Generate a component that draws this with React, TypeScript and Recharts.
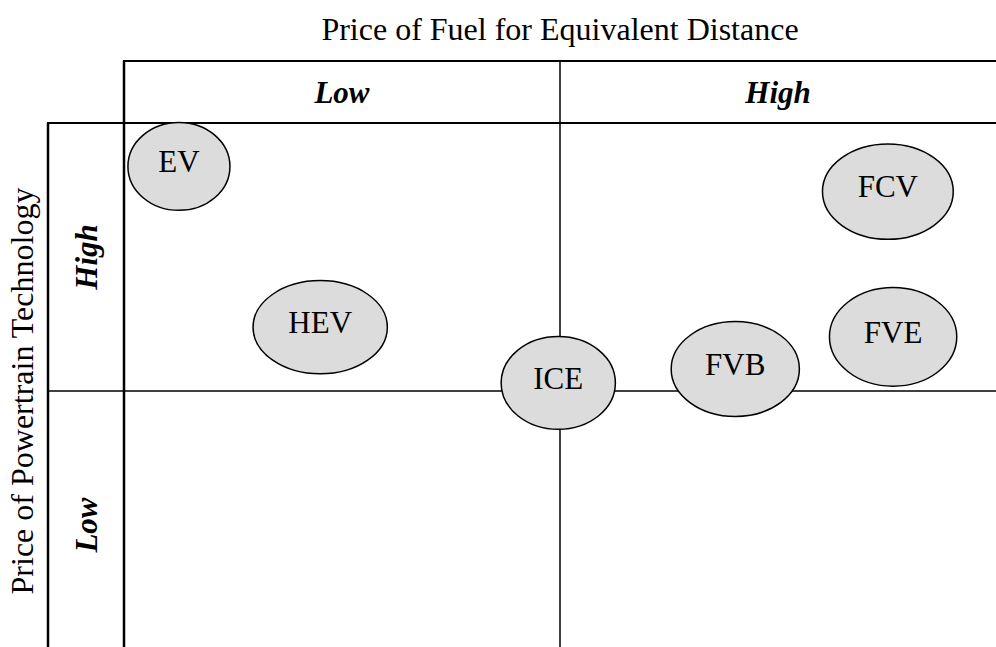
import React from 'react';
import { ScatterChart, Scatter, XAxis, YAxis, ReferenceLine, Customized } from 'recharts';

// ---- data ----
const vehicles = ['EV', 'HEV', 'ICE', 'FVB', 'FVE', 'FCV'];
const fuelPrice = [6.3, 22.5, 49.8, 70.1, 88.2, 87.6];
const powertrainPrice = [91.9, 61.9, 51.5, 54.1, 60.1, 87.2];
const fuelSpread = [11.7, 15.4, 13.1, 14.7, 14.6, 15.0];
const powertrainSpread = [16.4, 17.4, 17.3, 17.7, 18.4, 17.8];
const levelTicks = [25, 75];
const levelLabels = ['Low', 'High'];
const splitValue = 50;
const xTitle = 'Price of Fuel for Equivalent Distance';
const yTitle = 'Price of Powertrain Technology';

// ---- layout ----
const W = 996;
const H = 659;
const MARGIN = { top: 61, right: 0, bottom: 0, left: 48 };
const X_AXIS_H = 62;
const Y_AXIS_W = 76;
const PLOT_L = MARGIN.left + Y_AXIS_W;
const PLOT_T = MARGIN.top + X_AXIS_H;
const PLOT_W = W - PLOT_L - MARGIN.right;
const PLOT_H = H - PLOT_T - MARGIN.bottom;
const FONT = "'Liberation Serif', 'Times New Roman', Times, serif";
const FS = 31;
const FS_TITLE = 32;

const data = vehicles.map((name, i) => ({
  name,
  x: fuelPrice[i],
  y: powertrainPrice[i],
  w: fuelSpread[i],
  h: powertrainSpread[i],
}));

const labelFor = (v: number) => levelLabels[levelTicks.indexOf(v)];

const HeaderTick = (props: any) => {
  const { x, y, payload } = props;
  return (
    <text x={x} y={y - X_AXIS_H / 2} dy="0.35em" textAnchor="middle" fontFamily={FONT}
      fontSize={FS} fontWeight="bold" fontStyle="italic" fill="#000">
      {labelFor(payload.value)}
    </text>
  );
};

const SideTick = (props: any) => {
  const { x, y, payload } = props;
  const cx = x - Y_AXIS_W / 2;
  return (
    <text x={cx} y={y} dy="0.35em" textAnchor="middle" transform={`rotate(-90, ${cx}, ${y})`}
      fontFamily={FONT} fontSize={FS} fontWeight="bold" fontStyle="italic" fill="#000">
      {labelFor(payload.value)}
    </text>
  );
};

const XTitle = (props: any) => {
  const vb = props.viewBox || {};
  return (
    <text x={vb.x + vb.width / 2} y={vb.y - 21} textAnchor="middle" fontFamily={FONT} fontSize={FS_TITLE} fill="#000">
      {xTitle}
    </text>
  );
};

const YTitle = (props: any) => {
  const vb = props.viewBox || {};
  const cx = vb.x - 15;
  const cy = vb.y + vb.height / 2;
  return (
    <text x={cx} y={cy} textAnchor="middle" transform={`rotate(-90, ${cx}, ${cy})`} fontFamily={FONT} fontSize={FS_TITLE} fill="#000">
      {yTitle}
    </text>
  );
};

const Frame = () => (
  <g stroke="#000" fill="none">
    <line x1={PLOT_L - 1} y1={MARGIN.top} x2={W} y2={MARGIN.top} strokeWidth={2} />
    <line x1={PLOT_L} y1={MARGIN.top} x2={PLOT_L} y2={H} strokeWidth={2.5} />
    <line x1={PLOT_L + PLOT_W / 2} y1={MARGIN.top} x2={PLOT_L + PLOT_W / 2} y2={PLOT_T} strokeWidth={1.5} />
    <line x1={MARGIN.left - 1} y1={PLOT_T} x2={W} y2={PLOT_T} strokeWidth={2} />
    <line x1={MARGIN.left} y1={PLOT_T} x2={MARGIN.left} y2={H} strokeWidth={2.5} />
    <line x1={MARGIN.left} y1={PLOT_T + PLOT_H / 2} x2={PLOT_L} y2={PLOT_T + PLOT_H / 2} strokeWidth={1.5} />
  </g>
);

const EllipseShape = (props: any) => {
  const { cx, cy, payload } = props;
  const rx = (payload.w * PLOT_W) / 100 / 2;
  const ry = (payload.h * PLOT_H) / 100 / 2;
  return (
    <g>
      <ellipse cx={cx} cy={cy} rx={rx} ry={ry} fill="#dcdcdc" stroke="#000" strokeWidth={1.5} />
      <text x={cx} y={cy - 5} dy="0.35em" textAnchor="middle" fontFamily={FONT} fontSize={FS} fill="#000">
        {payload.name}
      </text>
    </g>
  );
};

export default function App() {
  return (
    <div style={{ width: W, height: 647, overflow: 'hidden', background: '#fff' }}>
      <style>{'body{margin:0;background:#fff}'}</style>
      <ScatterChart width={W} height={H} margin={MARGIN}>
        <XAxis type="number" dataKey="x" domain={[0, 100]} orientation="top" height={X_AXIS_H}
          ticks={levelTicks} tick={<HeaderTick />} axisLine={false} tickLine={false} tickSize={0} tickMargin={0}
          label={{ content: <XTitle /> }} />
        <YAxis type="number" dataKey="y" domain={[0, 100]} width={Y_AXIS_W}
          ticks={levelTicks} tick={<SideTick />} axisLine={false} tickLine={false} tickSize={0} tickMargin={0}
          label={{ content: <YTitle /> }} />
        <Customized component={<Frame />} />
        <ReferenceLine x={splitValue} stroke="#000" strokeWidth={1.5} />
        <ReferenceLine y={splitValue} stroke="#000" strokeWidth={1.5} />
        <Scatter data={data} shape={<EllipseShape />} isAnimationActive={false} />
      </ScatterChart>
    </div>
  );
}
